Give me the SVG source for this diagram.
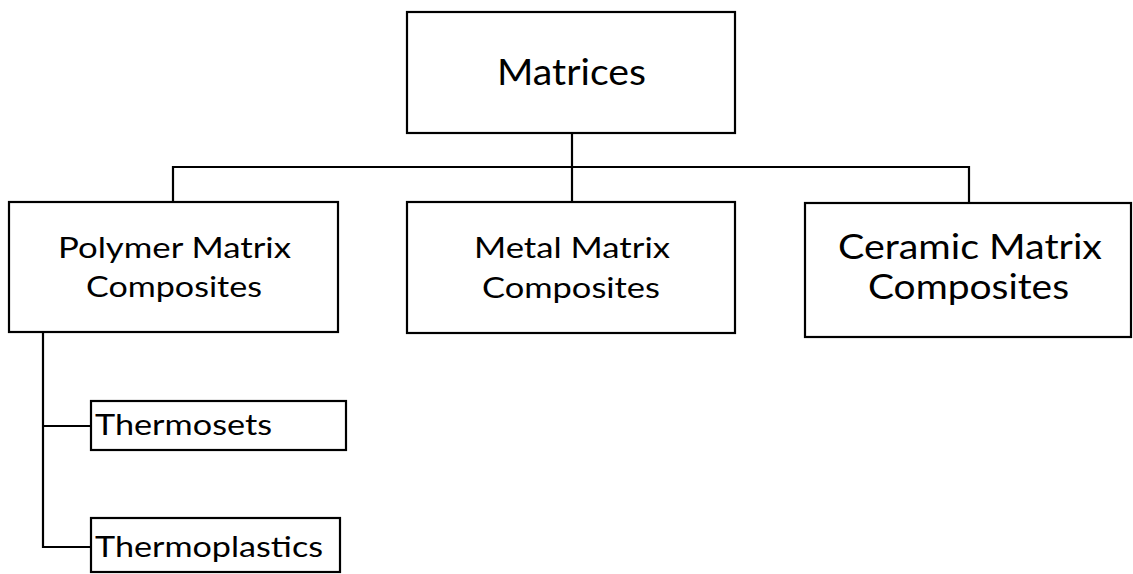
<svg xmlns="http://www.w3.org/2000/svg" width="1133" height="574" viewBox="0 0 1133 574">
<style>
.box{fill:#fff;stroke:#000;stroke-width:2.2}
.ln{fill:none;stroke:#000;stroke-width:2.2}
text{font-family:Lato,"Open Sans","Liberation Sans",sans-serif;fill:#000}
</style>
<rect width="1133" height="574" fill="#fff"/>
<g id="connectors">
<line class="ln" x1="572" y1="133" x2="572" y2="202"/>
<polyline class="ln" points="173,202 173,167 969,167 969,202"/>
<polyline class="ln" points="43,332 43,547 91,547"/>
<line class="ln" x1="43" y1="426" x2="91" y2="426"/>
</g>
<g id="matrices">
<rect class="box" x="407" y="12" width="328" height="121"/>
<text x="497" y="85" font-size="37" textLength="149" lengthAdjust="spacingAndGlyphs">Matrices</text>
</g>
<g id="polymer">
<rect class="box" x="9" y="202" width="329" height="130"/>
<text x="58" y="257.5" font-size="29" textLength="233" lengthAdjust="spacingAndGlyphs">Polymer Matrix</text>
<text x="86" y="297" font-size="29" textLength="176" lengthAdjust="spacingAndGlyphs">Composites</text>
</g>
<g id="metal">
<rect class="box" x="407" y="202" width="328" height="131"/>
<text x="474" y="258" font-size="29.5" textLength="196" lengthAdjust="spacingAndGlyphs">Metal Matrix</text>
<text x="482" y="298" font-size="29.5" textLength="178" lengthAdjust="spacingAndGlyphs">Composites</text>
</g>
<g id="ceramic">
<rect class="box" x="805" y="203" width="326" height="134"/>
<text x="838" y="258.5" font-size="35" textLength="264" lengthAdjust="spacingAndGlyphs">Ceramic Matrix</text>
<text x="868" y="298.5" font-size="35" textLength="201" lengthAdjust="spacingAndGlyphs">Composites</text>
</g>
<g id="thermosets">
<rect class="box" x="91" y="401" width="255" height="49"/>
<text x="95" y="435" font-size="29.5" textLength="177" lengthAdjust="spacingAndGlyphs">Thermosets</text>
</g>
<g id="thermoplastics">
<rect class="box" x="91" y="518" width="249" height="54"/>
<text x="95" y="557" font-size="29.5" textLength="228" lengthAdjust="spacingAndGlyphs">Thermoplastics</text>
</g>
</svg>
